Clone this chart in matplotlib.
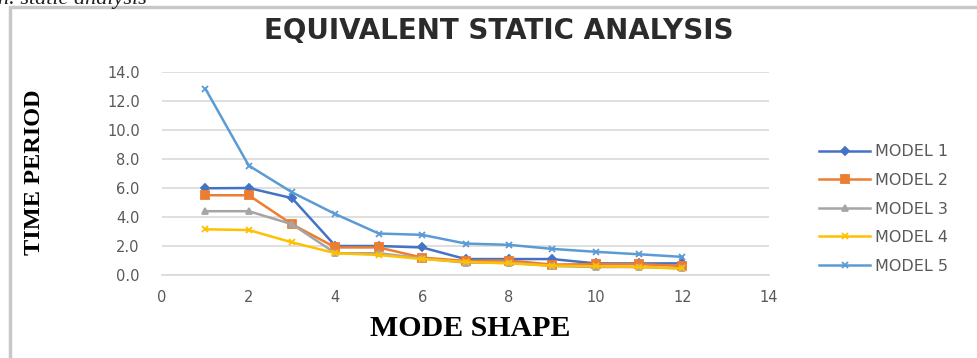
import matplotlib
matplotlib.use('Agg')
import matplotlib.pyplot as plt
from matplotlib.patches import Rectangle

# mode shape number (x) and time period per model
modes = [1, 2, 3, 4, 5, 6, 7, 8, 9, 10, 11, 12]
model_1 = [5.98, 6.0, 5.3, 2.0, 2.0, 1.9, 1.1, 1.1, 1.1, 0.8, 0.8, 0.8]
model_2 = [5.5, 5.5, 3.5, 1.9, 1.9, 1.2, 0.97, 1.0, 0.72, 0.75, 0.75, 0.62]
model_3 = [4.4, 4.4, 3.5, 1.5, 1.5, 1.15, 0.85, 0.85, 0.62, 0.55, 0.55, 0.45]
model_4 = [3.15, 3.1, 2.25, 1.5, 1.38, 1.1, 0.9, 0.8, 0.65, 0.6, 0.55, 0.45]
model_5 = [12.85, 7.55, 5.7, 4.2, 2.86, 2.77, 2.17, 2.08, 1.8, 1.6, 1.43, 1.25]
labels = ['MODEL 1', 'MODEL 2', 'MODEL 3', 'MODEL 4', 'MODEL 5']
y_ticks = [0, 2, 4, 6, 8, 10, 12, 14]
x_ticks = [0, 2, 4, 6, 8, 10, 12, 14]

series = [model_1, model_2, model_3, model_4, model_5]
colors = ['#4472C4', '#ED7D31', '#A5A5A5', '#FFC000', '#5B9BD5']
markers = ['D', 's', '^', 'x', 'x']
msizes = [4, 5.5, 4.5, 4.5, 4.5]

fig = plt.figure(figsize=(9.77, 3.58), dpi=100)
W, H = 977, 358

# chart border (only top and left visible in the crop)
fig.patches.append(Rectangle((10 / W, -0.1), 1.2, (H - 7) / H + 0.1,
                             transform=fig.transFigure, fill=False,
                             edgecolor='#C8C8C8', linewidth=2.5))

# leftover caption from the page, cut at the top edge
fig.text(-2 / W, (H - 4) / H, 'n. static analysis', fontsize=16,
         family='Liberation Serif', style='italic', color='#222222',
         va='baseline', ha='left')

ax = fig.add_axes([162 / W, 1 - 275 / H, (769 - 162) / W, (275 - 72) / H])
for vals, c, m, ms, lab in zip(series, colors, markers, msizes, labels):
    ax.plot(modes, vals, color=c, marker=m, markersize=ms, linewidth=1.8,
            markeredgewidth=1.3, label=lab)

ax.set_xlim(0, 14)
ax.set_ylim(0, 14)
ax.set_xticks(x_ticks)
ax.set_yticks(y_ticks)
ax.set_yticklabels([f'{v:.1f}' for v in y_ticks])
ax.tick_params(length=0, labelsize=10.5, colors='#595959')
ax.tick_params(axis='x', pad=11)
ax.tick_params(axis='y', pad=16)
ax.grid(axis='y', color='#D9D9D9', linewidth=1.2)
ax.set_axisbelow(True)
for s in ['top', 'right', 'left']:
    ax.spines[s].set_visible(False)
ax.spines['bottom'].set_color('#D9D9D9')
ax.spines['bottom'].set_linewidth(1.2)

fig.text(499 / W, 1 - 31 / H, 'EQUIVALENT STATIC ANALYSIS', fontsize=20,
         fontweight='bold', color='#2B2B2B', ha='center', va='center')
fig.text(470 / W, 1 - 328 / H, 'MODE SHAPE', fontsize=21.5, fontweight='bold',
         family='Liberation Serif', ha='center', va='center')
fig.text(35 / W, 1 - 172 / H, 'TIME PERIOD', fontsize=17.5, fontweight='bold',
         family='Liberation Serif', rotation=90, ha='center', va='center')

ax.legend(loc='center left', bbox_to_anchor=(805 / W, 1 - 209 / H),
          bbox_transform=fig.transFigure, frameon=False, fontsize=11.5,
          labelcolor='#595959', handlelength=3.2, labelspacing=0.85,
          handletextpad=0.3)

fig.savefig('out.png', dpi=100)
